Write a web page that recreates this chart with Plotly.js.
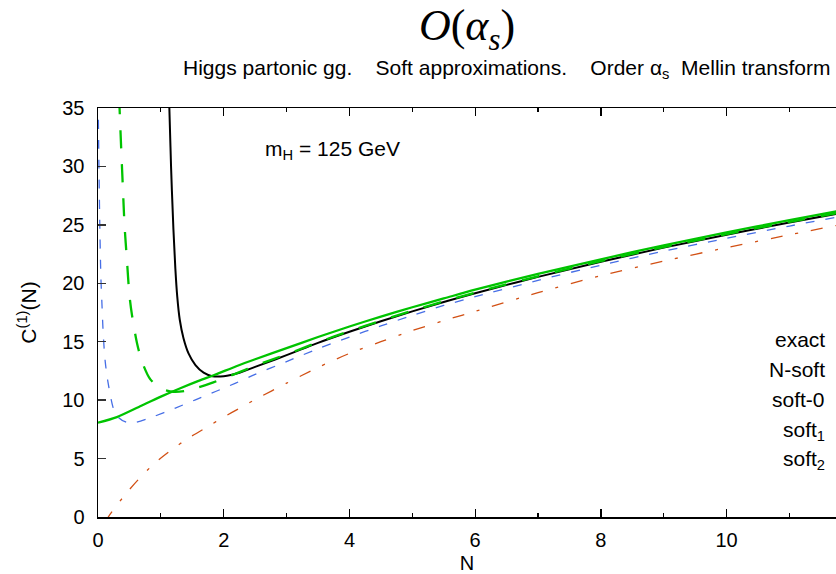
<!DOCTYPE html>
<html><head><meta charset="utf-8">
<script src="https://cdn.plot.ly/plotly-3.0.1.min.js"></script>
<style>html,body{margin:0;padding:0;background:#fff;overflow:hidden}</style>
</head><body><div id="chart" style="width:836px;height:574px"></div>
<script>
// exact
const N_exact = [1.12, 1.135, 1.162, 1.2, 1.23, 1.26, 1.3, 1.36, 1.44, 1.55, 1.68, 1.82, 2.0, 2.25, 2.5, 3, 3.5, 4, 4.5, 5, 5.5, 6, 7, 8, 9, 10, 11, 11.75];
const C_exact = [36.5, 35, 30, 24.6, 21.3, 18.9, 16.9, 15.3, 14.0, 13.0, 12.35, 12.05, 12.05, 12.35, 12.85, 13.85, 14.9, 15.85, 16.75, 17.6, 18.4, 19.15, 20.55, 21.85, 23.05, 24.15, 25.2, 25.95];
// N-soft
const N_nsoft = [0.335, 0.343, 0.37, 0.397, 0.423, 0.46, 0.5, 0.54, 0.62, 0.7, 0.83, 1.0, 1.2, 1.4, 1.6, 1.8, 2.05, 2.3, 2.5, 3, 3.5, 4, 4.5, 5, 5.5, 6, 7, 8, 9, 10, 11, 11.75];
const C_nsoft = [36, 35, 31.4, 28, 24.9, 22, 19, 17.3, 14.9, 13.3, 11.8, 11.0, 10.72, 10.8, 11.1, 11.45, 11.97, 12.5, 12.95, 13.92, 14.95, 15.9, 16.8, 17.65, 18.45, 19.2, 20.6, 21.9, 23.1, 24.2, 25.25, 26.0];
// soft-0
const N_soft0 = [0.006, 0.015, 0.03, 0.046, 0.06, 0.085, 0.115, 0.16, 0.25, 0.33, 0.45, 0.58, 0.86, 1.23, 1.55, 1.87, 2.19, 2.5, 3, 3.5, 4, 4.5, 5, 5.5, 6, 7, 8, 9, 10, 11, 11.75];
const C_soft0 = [34, 30, 24.5, 20.5, 18.6, 15.5, 13.3, 11.5, 9.2, 8.5, 8.12, 8.07, 8.55, 9.32, 10.03, 10.74, 11.46, 12.2, 13.3, 14.4, 15.4, 16.35, 17.25, 18.1, 18.85, 20.25, 21.55, 22.75, 23.85, 24.9, 25.65];
// soft_1
const N_soft1 = [0, 0.3, 0.65, 1.0, 1.3, 1.6, 1.85, 2.2, 2.5, 3, 3.5, 4, 4.5, 5, 5.5, 6, 7, 8, 9, 10, 11, 11.75];
const C_soft1 = [8.07, 8.55, 9.42, 10.3, 11.0, 11.65, 12.15, 12.9, 13.5, 14.45, 15.4, 16.3, 17.15, 17.95, 18.7, 19.45, 20.8, 22.05, 23.25, 24.35, 25.4, 26.15];
// soft_2
const N_soft2 = [0.12, 0.163, 0.43, 0.64, 0.9, 1.17, 1.44, 1.75, 2.0, 2.25, 2.5, 3, 3.5, 4, 4.5, 5, 5.5, 6, 7, 8, 9, 10, 11, 11.75];
const C_soft2 = [-0.4, 0, 1.9, 3.2, 4.6, 5.75, 6.75, 7.75, 8.55, 9.3, 10.05, 11.45, 12.8, 14.0, 15.0, 15.95, 16.8, 17.6, 19.2, 20.65, 21.9, 23.05, 24.15, 24.95];

const legendLabels = ['exact', 'N-soft', 'soft-0', 'soft<sub>1</sub>', 'soft<sub>2</sub>'];
const legendY = [15.17, 12.6, 10.03, 7.4, 4.85];
const xTicks = [0, 2, 4, 6, 8, 10];
const yTicks = [0, 5, 10, 15, 20, 25, 30, 35];

const FONT = 'Liberation Sans, Arial, Helvetica, sans-serif';
const GREEN = 'rgb(0,196,0)';
const BLUE = 'rgb(70,110,230)';
const RED = 'rgb(210,80,20)';

const traces = [
  {x: N_soft2, y: C_soft2, mode: 'lines', line: {color: RED, width: 1.3, dash: '12px,13px,3px,13px', shape: 'spline', smoothing: 0.8}, name: 'soft2'},
  {x: N_soft0, y: C_soft0, mode: 'lines', line: {color: BLUE, width: 1.3, dash: '9px,11px', shape: 'spline', smoothing: 0.8}, name: 'soft-0'},
  {x: N_exact, y: C_exact, mode: 'lines', line: {color: '#000', width: 2, shape: 'spline', smoothing: 1}, name: 'exact'},
  {x: N_nsoft, y: C_nsoft, mode: 'lines', line: {color: GREEN, width: 2.3, dash: '18px,16px', shape: 'spline', smoothing: 0.8}, name: 'N-soft'},
  {x: N_soft1, y: C_soft1, mode: 'lines', line: {color: GREEN, width: 2.3, shape: 'spline', smoothing: 0.8}, name: 'soft1'}
];

const annotations = [
  {xref: 'paper', yref: 'paper', x: 0.9946, y: 1.095, xanchor: 'right', yanchor: 'middle', showarrow: false,
   text: 'Higgs partonic gg.\u00A0\u00A0\u00A0 Soft approximations.\u00A0\u00A0\u00A0 Order \u03B1<sub>s</sub>\u00A0 Mellin transform',
   font: {family: FONT, size: 21, color: '#000'}},
  {xref: 'x', yref: 'y', x: 2.62, y: 31.4, xanchor: 'left', yanchor: 'middle', showarrow: false,
   text: 'm<sub>H</sub> = 125 GeV', font: {family: FONT, size: 21, color: '#000'}}
];
legendLabels.forEach((t, i) => annotations.push({
  xref: 'x', yref: 'y', x: 11.59, y: legendY[i], xanchor: 'right', yanchor: 'middle', showarrow: false,
  text: t, font: {family: FONT, size: 21, color: '#000'}
}));

const layout = {
  width: 836, height: 574,
  margin: {l: 98, r: 0, t: 108, b: 57, pad: 0},
  paper_bgcolor: '#fff', plot_bgcolor: '#fff',
  showlegend: false,
  font: {family: FONT, size: 20, color: '#000'},
  title: {text: '<i>O</i>(<i>\u03B1<sub>s</sub></i>)', x: 0.5, xref: 'paper', xanchor: 'center', y: 1 - 25/574, yref: 'container', yanchor: 'middle',
          font: {family: 'Liberation Serif, DejaVu Serif, serif', size: 44, color: '#000'}},
  xaxis: {range: [0, 11.74], tickvals: xTicks, ticktext: xTicks.map(String), ticks: 'inside', ticklen: 8, tickwidth: 1.3, tickcolor: '#000',
          minor: {dtick: 1, tick0: 0, ticks: 'inside', ticklen: 4, tickwidth: 1.2, tickcolor: '#000', showgrid: false},
          showline: true, linecolor: '#000', linewidth: 1.5, mirror: 'ticks', showgrid: false, zeroline: false,
          ticklabelstandoff: 4, tickfont: {family: FONT, size: 20},
          title: {text: 'N', font: {family: FONT, size: 20}, standoff: 10}},
  yaxis: {range: [0, 35], tickvals: yTicks, ticks: 'inside', ticklen: 8, tickwidth: 1.3, tickcolor: '#333',
          showline: true, linecolor: '#000', linewidth: 1.5, mirror: false, showgrid: false, zeroline: false,
          ticklabelstandoff: 8, tickfont: {family: FONT, size: 20},
          title: {text: 'C<sup>(1)</sup>(N)', font: {family: FONT, size: 21}, standoff: 20}},
  annotations: annotations
};

Plotly.newPlot('chart', traces, layout, {displayModeBar: false, staticPlot: true});
</script></body></html>
